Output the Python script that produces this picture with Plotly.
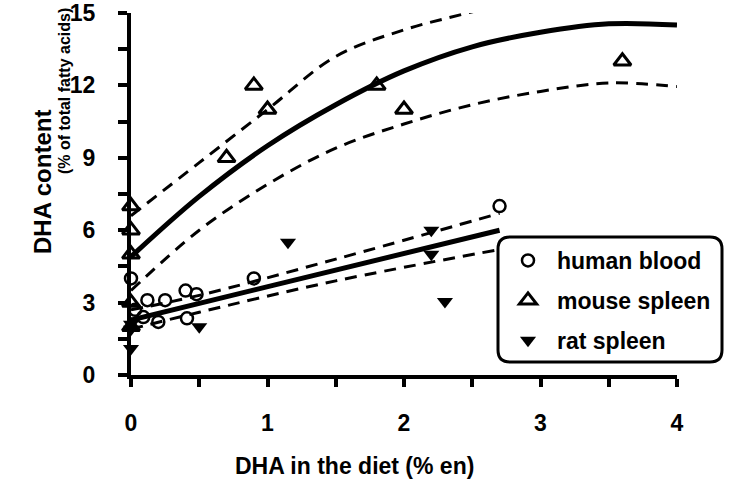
import plotly.graph_objects as go

# ---- data ----
human_x = [0, 0.03, 0.09, 0.12, 0.20, 0.25, 0.40, 0.41, 0.48, 0.90, 2.70]
human_y = [4.0, 2.7, 2.4, 3.1, 2.2, 3.1, 3.5, 2.35, 3.35, 4.0, 7.0]

mouse_x = [0, 0, 0, 0, 0, 0.70, 0.90, 1.00, 1.80, 2.00, 3.60]
mouse_y = [7.0, 6.0, 5.0, 3.0, 2.0, 9.0, 12.0, 11.0, 12.0, 11.0, 13.0]

rat_x = [0, 0, 0, 0.50, 1.15, 2.20, 2.20, 2.30]
rat_y = [1.1, 1.9, 2.1, 2.0, 5.5, 6.0, 5.0, 3.05]

# fitted curves
mouse_fit_x = [0, 0.5, 1.0, 1.5, 2.0, 2.5, 3.0, 3.5, 4.0]
mouse_fit_y = [4.9, 7.4, 9.5, 11.2, 12.6, 13.6, 14.2, 14.55, 14.5]
mouse_up_x = [0, 0.5, 1.0, 1.5, 2.0, 2.5, 3.0]
mouse_up_y = [6.6, 8.8, 11.0, 13.2, 14.3, 15.05, 15.8]
mouse_lo_x = [0, 0.5, 1.0, 1.5, 2.0, 2.5, 3.0, 3.5, 4.0]
mouse_lo_y = [3.5, 6.0, 7.9, 9.4, 10.4, 11.2, 11.75, 12.1, 11.95]

human_fit_x = [0, 2.7]
human_fit_y = [2.28, 6.0]
human_up_x = [0, 0.5, 1.5, 2.7]
human_up_y = [2.7, 3.3, 4.8, 6.7]
human_lo_x = [0, 0.5, 1.5, 2.7]
human_lo_y = [1.9, 2.6, 3.9, 5.2]

x_ticks = [0, 1, 2, 3, 4]
y_ticks = [0, 3, 6, 9, 12, 15]
series_names = ["human blood", "mouse spleen", "rat spleen"]

FONT = "Arial, Liberation Sans, sans-serif"

fig = go.Figure()

def line(xs, ys, dash, width):
    fig.add_trace(go.Scatter(x=xs, y=ys, mode="lines", showlegend=False,
                             line=dict(color="black", width=width, dash=dash, shape="spline"),
                             hoverinfo="skip"))

line(mouse_fit_x, mouse_fit_y, "solid", 5)
line(mouse_up_x, mouse_up_y, "12px,8px", 3)
line(mouse_lo_x, mouse_lo_y, "12px,8px", 3)
line(human_fit_x, human_fit_y, "solid", 5)
line(human_up_x, human_up_y, "12px,8px", 3)
line(human_lo_x, human_lo_y, "12px,8px", 3)

fig.add_trace(go.Scatter(x=human_x, y=human_y, mode="markers", name=series_names[0],
                         legendgroup="a", cliponaxis=False,
                         marker=dict(symbol="circle-open", size=12, color="black",
                                     line=dict(width=2.5, color="black"))))
fig.add_trace(go.Scatter(x=mouse_x, y=mouse_y, mode="markers", name=series_names[1],
                         legendgroup="b", cliponaxis=False,
                         marker=dict(symbol="triangle-up-open", size=15, color="black",
                                     line=dict(width=3, color="black"))))
fig.add_trace(go.Scatter(x=rat_x, y=rat_y, mode="markers", name=series_names[2],
                         legendgroup="c", cliponaxis=False,
                         marker=dict(symbol="triangle-down", size=14, color="black",
                                     line=dict(width=0))))

L, R, T, B = 131, 677, 13, 375          # plot area in pixels
W, H = R - L, B - T
bx0, bx1, by0, by1 = 498, 722, 237, 362  # legend box in pixels
r = 12
def px(x): return (x - L) / W
def py(y): return (B - y) / H
path = (f"M {px(bx0+r)},{py(by0)} L {px(bx1-r)},{py(by0)} "
        f"Q {px(bx1)},{py(by0)} {px(bx1)},{py(by0+r)} L {px(bx1)},{py(by1-r)} "
        f"Q {px(bx1)},{py(by1)} {px(bx1-r)},{py(by1)} L {px(bx0+r)},{py(by1)} "
        f"Q {px(bx0)},{py(by1)} {px(bx0)},{py(by1-r)} L {px(bx0)},{py(by0+r)} "
        f"Q {px(bx0)},{py(by0)} {px(bx0+r)},{py(by0)} Z")
fig.add_shape(type="path", path=path, xref="paper", yref="paper",
              line=dict(color="black", width=3), fillcolor="white", layer="above")

fig.update_layout(
    width=730, height=486,
    margin=dict(l=L, r=730 - R, t=T, b=486 - B, autoexpand=False),
    paper_bgcolor="white", plot_bgcolor="white",
    font=dict(family=FONT, color="black", size=20, weight="bold"),
    legend=dict(x=px(499), y=py(239), xanchor="left", yanchor="top",
                bgcolor="rgba(0,0,0,0)", borderwidth=0, tracegroupgap=7,
                itemwidth=48,
                font=dict(size=23, family=FONT, weight="bold")),
    xaxis=dict(range=[0, 4], tickvals=x_ticks, ticktext=[str(v) for v in x_ticks],
               automargin=False,
               showgrid=False, zeroline=False, showline=True, linewidth=4, linecolor="black",
               ticks="outside", ticklen=8, tickwidth=4, tickcolor="black",
               ticklabelstandoff=16,
               minor=dict(dtick=0.5, ticks="outside", ticklen=8, tickwidth=4, tickcolor="black"),
               tickfont=dict(size=23, family=FONT, weight="bold")),
    yaxis=dict(range=[0, 15], tickvals=y_ticks, ticktext=[str(v) for v in y_ticks],
               automargin=False,
               showgrid=False, zeroline=False, showline=True, linewidth=4, linecolor="black",
               ticks="outside", ticklen=9, tickwidth=4, tickcolor="black",
               ticklabelstandoff=18,
               minor=dict(dtick=1.5, ticks="outside", ticklen=9, tickwidth=4, tickcolor="black"),
               tickfont=dict(size=23, family=FONT, weight="bold")),
)

fig.add_annotation(text="DHA in the diet (% en)", xref="paper", yref="paper",
                   x=px(354), y=py(466), xanchor="center", yanchor="middle", showarrow=False,
                   font=dict(size=23, family=FONT, weight="bold"))
fig.add_annotation(text="DHA content", xref="paper", yref="paper", textangle=-90,
                   x=px(42), y=py(182), xanchor="center", yanchor="middle", showarrow=False,
                   font=dict(size=24, family=FONT, weight="bold"))
fig.add_annotation(text="(% of total fatty acids)", xref="paper", yref="paper", textangle=-90,
                   x=px(64), y=py(91), xanchor="center", yanchor="middle", showarrow=False,
                   font=dict(size=16, family=FONT, weight="bold"))

fig.write_html("out.html", config={"displayModeBar": False},
               post_script="document.body.style.margin='0px';document.body.style.overflow='hidden';")
